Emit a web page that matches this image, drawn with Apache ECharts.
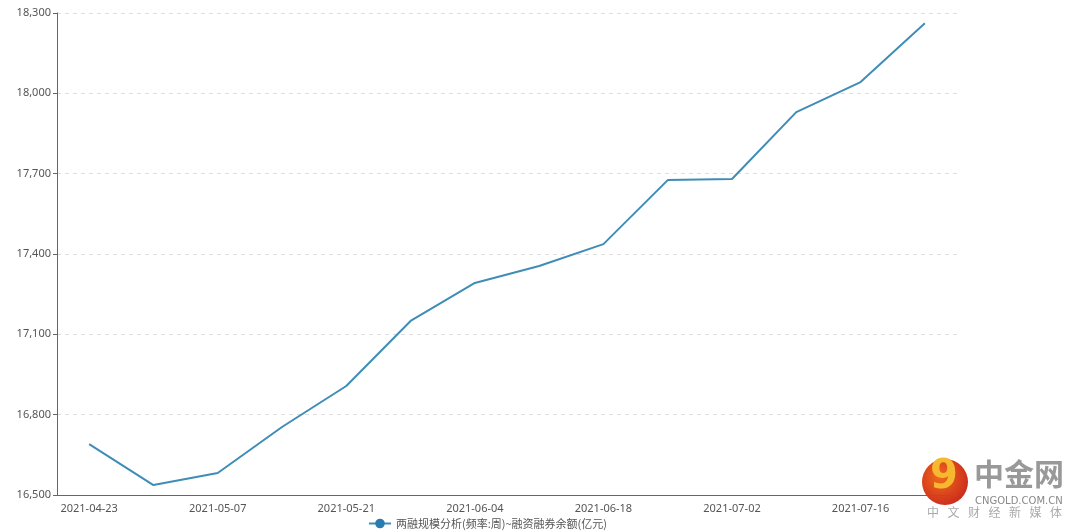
<!DOCTYPE html>
<html><head><meta charset="utf-8">
<script src="https://cdn.jsdelivr.net/npm/echarts@6/dist/echarts.min.js"></script>
<style>html,body{margin:0;padding:0;background:#fff}#c{width:1080px;height:532px}</style>
</head><body><div id="c"></div>
<script>
const categories = ['2021-04-23','2021-04-30','2021-05-07','2021-05-14','2021-05-21','2021-05-28','2021-06-04','2021-06-11','2021-06-18','2021-06-25','2021-07-02','2021-07-09','2021-07-16','2021-07-23'];
const balance = [16690,16537,16582,16754,16907,17150,17292,17355,17437,17676,17680,17930,18042,18262];
const seriesName = '两融规模分析(频率:周)~融资融券余额(亿元)';
const yTicks = {min:16500, max:18300, interval:300};
const logoSub = ['中','文','财','经','新','媒','体'];

const chart = echarts.init(document.getElementById('c'));
const fontFam = '"Noto Sans", "Noto Sans CJK SC", sans-serif';
const graphics = [
  {type:'circle', shape:{cx:945, cy:482, r:23}, style:{fill:new echarts.graphic.RadialGradient(0.4,0.4,0.7,[{offset:0,color:'#f06a1c'},{offset:1,color:'#c8261c'}])}},
  {type:'text', left:930, top:458, style:{text:'9', fill:'#f5b82e', font:'bold 40px "DejaVu Sans"'}},
  {type:'text', left:974, top:459, style:{text:'中金网', fill:'#999', font:'bold 30px "Noto Sans CJK SC"'}},
  {type:'text', left:975, top:496, style:{text:'CNGOLD.COM.CN', fill:'#888', font:'10px "DejaVu Sans"'}}
];
logoSub.forEach((ch,i)=>graphics.push({type:'text', left:927+i*20.5, top:506, style:{text:ch, fill:'#aaa', font:'12px "Noto Sans CJK SC"'}}));
chart.setOption({
  animation:false,
  textStyle:{fontFamily:fontFam},
  grid:{left:57, right:123, top:13, bottom:37},
  legend:{bottom:-2, left:363, itemWidth:22, itemHeight:12, itemGap:5,
    textStyle:{color:'#555', fontSize:11, fontFamily:'"Noto Sans CJK SC", sans-serif'},
    data:[{name:seriesName}]},
  xAxis:{type:'category', data:categories, boundaryGap:true,
    axisLine:{lineStyle:{color:'#666'}},
    axisTick:{alignWithLabel:true, interval:(i)=>i%2===1, lineStyle:{color:'#666'}},
    axisLabel:{interval:1, color:'#555', fontSize:11, margin:8}},
  yAxis:{type:'value', min:yTicks.min, max:yTicks.max, interval:yTicks.interval,
    axisLine:{show:true, lineStyle:{color:'#666'}},
    axisTick:{show:true, length:4, lineStyle:{color:'#666'}},
    axisLabel:{color:'#555', fontSize:11, margin:6, formatter:v=>v.toLocaleString('en-US')},
    splitLine:{lineStyle:{type:[4,4], color:'#ddd'}}},
  series:[{name:seriesName, type:'line', data:balance, showSymbol:false, symbol:'circle', symbolSize:9,
    itemStyle:{color:'#2a7bb0'}, lineStyle:{color:'#3f8db6', width:2}}],
  graphic:graphics
});
</script></body></html>
